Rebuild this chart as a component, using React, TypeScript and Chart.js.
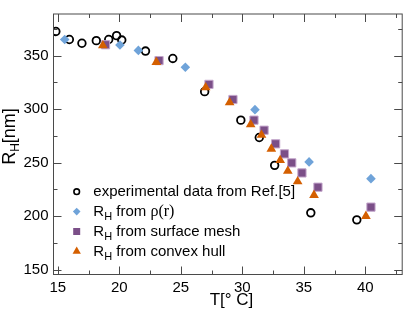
import React, { useEffect, useRef } from 'react';
import { Chart, registerables } from 'chart.js';

Chart.register(...registerables);

// ---- data ----
const expT = [14.84, 15.94, 16.96, 18.13, 19.14, 19.78, 20.2, 22.13, 24.35, 26.94, 29.88, 31.38, 32.63, 35.57, 39.31];
const expR = [372.5, 365, 361.5, 363.9, 365, 368.6, 364.5, 354.2, 347.3, 316.3, 289.7, 273.5, 247.5, 203.2, 196.6];

const rhoT = [15.56, 20.05, 21.55, 25.37, 31.03, 35.43, 40.46];
const rhoR = [365, 359.8, 354.8, 339.1, 299.5, 250.7, 235.1];

const meshT = [18.88, 23.23, 27.29, 29.24, 30.95, 31.77, 32.71, 33.43, 34.02, 34.85, 36.15, 40.46];
const meshR = [360.1, 345.3, 323.1, 309, 289.7, 280.3, 267.6, 258.2, 249.8, 240.4, 227.1, 208.5];

const hullT = [18.66, 23.01, 27.02, 28.97, 30.68, 31.56, 32.36, 33.08, 33.7, 34.5, 35.83, 40.05];
const hullR = [359.4, 343.8, 320.2, 306.2, 285.6, 275.8, 262.8, 252.2, 242.2, 232.4, 219.7, 200.1];

const xMajor = [15, 20, 25, 30, 35, 40];
const xMinor = [17.5, 22.5, 27.5, 32.5, 37.5, 42.5];
const yMajor = [150, 200, 250, 300, 350];
const yMinor = [175, 225, 275, 325, 375];
const xMin = 14.65;
const xMax = 43;
const yMin = 145.6;
const yMax = 388.8;

const xTitle = 'T[° C]';
const yTitleMain = 'R';
const yTitleSub = 'H';
const yTitleRest = '[nm]';

const legendEntries = [
  { parts: [{ t: 'experimental data from Ref.[5]' }] },
  { parts: [{ t: 'R' }, { t: 'H', sub: true }, { t: ' from ' }, { t: 'ρ(r)', serif: true }] },
  { parts: [{ t: 'R' }, { t: 'H', sub: true }, { t: ' from surface mesh' }] },
  { parts: [{ t: 'R' }, { t: 'H', sub: true }, { t: ' from convex hull' }] },
];

const COL_BLUE = '#6fa3d9';
const COL_PURPLE = '#7b4f88';
const COL_PURPLE_EDGE = '#c3a5cb';
const COL_ORANGE = '#d45f00';
const FRAME = '#4a4a4a';
const SANS = '"Liberation Sans", Arial, Helvetica, sans-serif';
const SERIF = '"Liberation Serif", "Times New Roman", serif';

function drawSymbol(ctx: CanvasRenderingContext2D, kind: number, x: number, y: number) {
  ctx.save();
  ctx.beginPath();
  if (kind === 0) {
    ctx.arc(x, y, 2.8, 0, Math.PI * 2);
    ctx.strokeStyle = '#000';
    ctx.lineWidth = 1.6;
    ctx.stroke();
  } else if (kind === 1) {
    const r = 3.8;
    ctx.moveTo(x - r, y);
    ctx.lineTo(x, y - r);
    ctx.lineTo(x + r, y);
    ctx.lineTo(x, y + r);
    ctx.closePath();
    ctx.fillStyle = COL_BLUE;
    ctx.fill();
  } else if (kind === 2) {
    ctx.rect(x - 3.5, y - 3.5, 7, 7);
    ctx.fillStyle = COL_PURPLE;
    ctx.fill();
  } else {
    const r = 4.8;
    ctx.moveTo(x, y - r);
    ctx.lineTo(x + r * 0.866, y + r * 0.5);
    ctx.lineTo(x - r * 0.866, y + r * 0.5);
    ctx.closePath();
    ctx.fillStyle = COL_ORANGE;
    ctx.fill();
  }
  ctx.restore();
}

const framePlugin = {
  id: 'frameTicksTitles',
  afterDraw(chart: any) {
    const ctx: CanvasRenderingContext2D = chart.ctx;
    const { left, right, top, bottom } = chart.chartArea;
    const xs = chart.scales.x;
    const ys = chart.scales.y;
    ctx.save();
    ctx.strokeStyle = FRAME;
    ctx.lineWidth = 1;
    ctx.strokeRect(left, top, right - left, bottom - top);
    ctx.beginPath();
    const tick = (vals: number[], len: number) => {
      vals.forEach((v) => {
        const px = Math.round(xs.getPixelForValue(v)) + 0.5;
        if (px < left || px > right) return;
        ctx.moveTo(px, bottom);
        ctx.lineTo(px, bottom - len);
        ctx.moveTo(px, top);
        ctx.lineTo(px, top + len);
      });
    };
    const ytick = (vals: number[], len: number) => {
      vals.forEach((v) => {
        const py = Math.round(ys.getPixelForValue(v)) + 0.5;
        if (py < top || py > bottom) return;
        ctx.moveTo(left, py);
        ctx.lineTo(left + len, py);
        ctx.moveTo(right, py);
        ctx.lineTo(right - len, py);
      });
    };
    tick(xMajor, 8);
    tick(xMinor, 4);
    ytick(yMajor, 8);
    ytick(yMinor, 4);
    ctx.stroke();

    // x title
    ctx.fillStyle = '#000';
    ctx.font = `17px ${SANS}`;
    ctx.textAlign = 'center';
    ctx.textBaseline = 'alphabetic';
    ctx.fillText(xTitle, 231.5, 304.5);

    // y title (rotated, with subscript)
    ctx.save();
    ctx.translate(14.5, 136.5);
    ctx.rotate(-Math.PI / 2);
    ctx.textAlign = 'left';
    const fMain = `18px ${SANS}`;
    const fSub = `12px ${SANS}`;
    ctx.font = fMain;
    const wR = ctx.measureText(yTitleMain).width;
    const wRest = ctx.measureText(yTitleRest).width;
    ctx.font = fSub;
    const wH = ctx.measureText(yTitleSub).width;
    let cx = -(wR + wH + wRest) / 2;
    ctx.font = fMain;
    ctx.fillText(yTitleMain, cx, 0);
    cx += wR;
    ctx.font = fSub;
    ctx.fillText(yTitleSub, cx, 4);
    cx += wH;
    ctx.font = fMain;
    ctx.fillText(yTitleRest, cx, 0);
    ctx.restore();

    // legend
    const symX = 76.7;
    const textX = 93.3;
    const y0 = 191.7;
    const dy = 19.9;
    legendEntries.forEach((entry, i) => {
      const y = y0 + i * dy;
      drawSymbol(ctx, i, symX, y);
      let tx = textX;
      ctx.textAlign = 'left';
      ctx.textBaseline = 'alphabetic';
      entry.parts.forEach((p: any) => {
        ctx.font = p.sub ? `11px ${SANS}` : p.serif ? `16px ${SERIF}` : `15px ${SANS}`;
        ctx.fillStyle = '#000';
        ctx.fillText(p.t, tx, y + 4.5 + (p.sub ? 4 : 0));
        tx += ctx.measureText(p.t).width;
      });
    });
    ctx.restore();
  },
};

export default function App() {
  const ref = useRef<HTMLCanvasElement | null>(null);
  useEffect(() => {
    document.body.style.margin = '0';
    const canvas = ref.current;
    if (!canvas) return;
    const toPts = (xs: number[], ys: number[]) => xs.map((x, i) => ({ x, y: ys[i] }));
    const chart = new Chart(canvas, {
      type: 'scatter',
      data: {
        datasets: [
          {
            label: 'experimental data from Ref.[5]',
            data: toPts(expT, expR),
            pointStyle: 'circle',
            pointRadius: 3.8,
            pointBorderWidth: 1.8,
            borderColor: '#000',
            backgroundColor: 'rgba(0,0,0,0)',
            order: 4,
          },
          {
            label: 'R_H from ρ(r)',
            data: toPts(rhoT, rhoR),
            pointStyle: 'rectRot',
            pointRadius: 4.8,
            pointBorderWidth: 0,
            borderColor: COL_BLUE,
            backgroundColor: COL_BLUE,
            order: 3,
          },
          {
            label: 'R_H from surface mesh',
            data: toPts(meshT, meshR),
            pointStyle: 'rect',
            pointRadius: 5.8,
            pointBorderWidth: 1,
            borderColor: COL_PURPLE_EDGE,
            backgroundColor: COL_PURPLE,
            order: 2,
          },
          {
            label: 'R_H from convex hull',
            data: toPts(hullT, hullR),
            pointStyle: 'triangle',
            pointRadius: 5.6,
            pointBorderWidth: 0,
            borderColor: COL_ORANGE,
            backgroundColor: COL_ORANGE,
            order: 1,
          },
        ] as any,
      },
      options: {
        animation: false,
        responsive: false,
        devicePixelRatio: 1,
        events: [],
        layout: { padding: { top: 0.5, right: 0.5, left: 0, bottom: 0 } },
        plugins: { legend: { display: false }, tooltip: { enabled: false } },
        scales: {
          x: {
            type: 'linear',
            min: xMin,
            max: xMax,
            afterFit: (s: any) => { s.height = 34.5; },
            afterBuildTicks: (s: any) => { s.ticks = xMajor.map((v) => ({ value: v })); },
            grid: { display: false, drawTicks: false },
            border: { display: false },
            ticks: {
              color: '#000',
              padding: 4,
              maxRotation: 0,
              autoSkip: false,
              font: { family: SANS, size: 15 },
              callback: (v: any) => String(v),
            },
          },
          y: {
            type: 'linear',
            min: yMin,
            max: yMax,
            afterFit: (s: any) => { s.width = 53.5; },
            afterBuildTicks: (s: any) => { s.ticks = yMajor.map((v) => ({ value: v })); },
            grid: { display: false, drawTicks: false },
            border: { display: false },
            ticks: {
              color: '#000',
              padding: 5,
              autoSkip: false,
              font: { family: SANS, size: 15 },
              callback: (v: any) => String(v),
            },
          },
        },
      },
      plugins: [framePlugin],
    } as any);
    return () => chart.destroy();
  }, []);
  return (
    <div style={{ position: 'absolute', left: 0, top: 0, width: 409, height: 309 }}>
      <canvas ref={ref} width={409} height={309} style={{ display: 'block', width: 409, height: 309 }} />
    </div>
  );
}
